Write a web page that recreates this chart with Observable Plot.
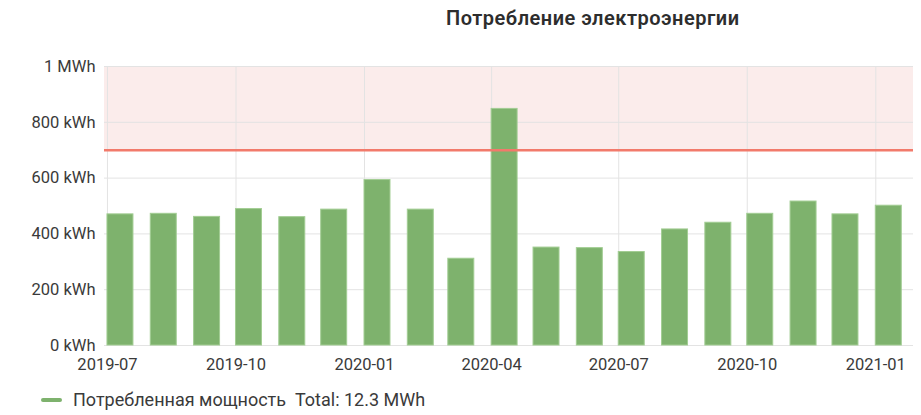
<!DOCTYPE html>
<html>
<head>
<meta charset="utf-8">
<script src="https://cdn.jsdelivr.net/npm/d3@7"></script>
<script src="https://cdn.jsdelivr.net/npm/@observablehq/plot@0.6"></script>
<style>
  html, body { margin: 0; padding: 0; background: #fff; }
  body { width: 921px; height: 415px; overflow: hidden; font-family: Roboto, "Noto Sans", sans-serif; }
  #title { position: relative; height: 40px; }
  #title span { position: absolute; left: 446px; top: 6px; font-size: 20px; font-weight: 600; letter-spacing: 0.5px; color: #2d2d2d; white-space: nowrap; }
  #legend { position: relative; height: 40px; }
  #legend .sw { position: absolute; left: 41px; top: 23px; width: 21px; height: 4px; border-radius: 2px; background: #7eb26d; }
  #legend .tx { position: absolute; left: 73px; top: 14px; font-size: 18px; color: #3a3a3a; white-space: nowrap; }
</style>
</head>
<body>
<div id="title"><span>Потребление электроэнергии</span></div>
<div id="chart"></div>
<div id="legend"><div class="sw"></div><div class="tx">Потребленная мощность&nbsp;&nbsp;Total: 12.3 MWh</div></div>
<script>
const months = ["2019-07","2019-08","2019-09","2019-10","2019-11","2019-12","2020-01","2020-02","2020-03","2020-04","2020-05","2020-06","2020-07","2020-08","2020-09","2020-10","2020-11","2020-12","2021-01"];
const values = [470, 472, 461, 489, 460, 487, 593, 487, 311, 848, 351, 349, 335, 416, 440, 472, 516, 470, 501];
const thresholds = [700];
const yTicks = [0, 200, 400, 600, 800, 1000];
const xTicks = ["2019-07","2019-10","2020-01","2020-04","2020-07","2020-10","2021-01"];
const xDomain = ["2019-06-28T21:00Z", "2021-01-28T00:00Z"];
const seriesName = "Потребленная мощность";

const parse = d3.utcParse("%Y-%m");
const data = months.map((m, i) => ({date: parse(m), value: values[i]}));
const barDays = 18.6;

const chart = Plot.plot({
  width: 921,
  height: 335,
  marginTop: 26,
  marginBottom: 30,
  marginLeft: 104,
  marginRight: 8,
  style: {fontFamily: "Roboto, sans-serif", fontSize: "16.5px", color: "#3a3a3a", background: "#fff"},
  x: {type: "utc", domain: xDomain.map(d => new Date(d)), ticks: xTicks.map(parse), tickFormat: d3.utcFormat("%Y-%m"), tickSize: 0, tickPadding: 13, label: null},
  y: {domain: [0, 1000], ticks: yTicks, tickFormat: d => d >= 1000 ? (d / 1000) + " MWh" : d + " kWh", tickSize: 0, tickPadding: 9, label: null},
  marks: [
    Plot.rectY(thresholds, {y1: d => d, y2: 1000, fill: "#fbeceb"}),
    Plot.gridY(yTicks, {stroke: "#e3e3e3", strokeOpacity: 1}),
    Plot.gridX(xTicks.map(parse), {stroke: "#e3e3e3", strokeOpacity: 1}),
    Plot.rectY(data, {
      x1: "date",
      x2: d => new Date(+d.date + barDays * 864e5),
      y: "value",
      fill: "#7eb26d",
      stroke: "#a2cd93",
      strokeWidth: 1,
      title: d => seriesName + ": " + d.value + " kWh"
    }),
    Plot.ruleY(thresholds, {stroke: "#f27a6b", strokeWidth: 2.5})
  ]
});
document.getElementById("chart").appendChild(chart);
</script>
</body>
</html>
